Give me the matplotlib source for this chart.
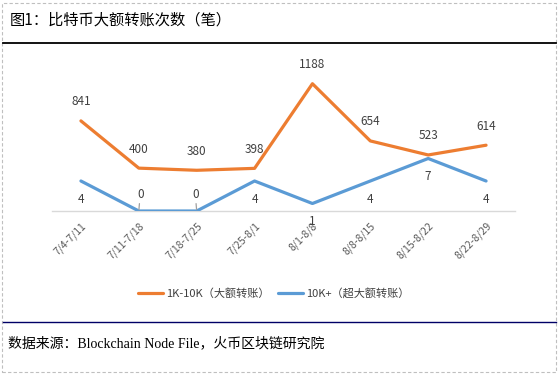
import matplotlib.pyplot as plt
from matplotlib.patches import Rectangle
from matplotlib.lines import Line2D

plt.rcParams['font.family'] = ['Noto Sans CJK SC', 'DejaVu Sans']

# data
weeks = ["7/4-7/11", "7/11-7/18", "7/18-7/25", "7/25-8/1",
         "8/1-8/8", "8/8-8/15", "8/15-8/22", "8/22-8/29"]
big = [841, 400, 380, 398, 1188, 654, 523, 614]      # 1K-10K
huge = [4, 0, 0, 4, 1, 4, 7, 4]                       # 10K+

ORANGE = "#ED7D31"
BLUE = "#5B9BD5"

fig = plt.figure(figsize=(5.59, 3.75), dpi=100)
ax = fig.add_axes([52/559, 1-211/375, 463/559, 150/375])
ax2 = ax.twinx()

x = list(range(len(weeks)))
l1, = ax.plot(x, big, color=ORANGE, lw=2.3, label="1K-10K（大额转账）", solid_capstyle='round')
l2, = ax2.plot(x, huge, color=BLUE, lw=2.3, label="10K+（超大额转账）", solid_capstyle='round')

ax.set_xlim(-0.5, len(weeks)-0.5)
ax.set_ylim(0, 1400)
ax2.set_ylim(0, 20)

for a in (ax, ax2):
    for s in ['top', 'right', 'left', 'bottom']:
        a.spines[s].set_visible(False)
    a.set_yticks([])
ax.spines['bottom'].set_visible(True)
ax.spines['bottom'].set_color('#D9D9D9')
ax.spines['bottom'].set_linewidth(1)

ax.set_xticks(x)
ax.set_xticklabels(weeks, rotation=45, ha='right', rotation_mode='anchor',
                   fontsize=7.5, color='#595959')
ax.tick_params(axis='x', length=0, pad=7)

for i, v in enumerate(big):
    ax.annotate(str(v), (i, v), xytext=(0, 9), textcoords='offset points',
                ha='center', va='bottom', fontsize=8.5, color='#404040')
for i, v in enumerate(huge):
    if v == 0:
        dx = 1 if i == 1 else -1
        ax2.annotate(str(v), (i, v), xytext=(dx, 12), textcoords='offset points',
                     ha='center', va='center', fontsize=8.5, color='#404040',
                     arrowprops=dict(arrowstyle='-', color='#A0A0A0', lw=0.9,
                                     shrinkA=0, shrinkB=1))
    else:
        ax2.annotate(str(v), (i, v), xytext=(0, -13), textcoords='offset points',
                     ha='center', va='center', fontsize=8.5, color='#404040')

fig.legend(handles=[l1, l2], loc='center', bbox_to_anchor=(0.49, 1-293/375),
           ncol=2, frameon=False, fontsize=8, handlelength=2.2, columnspacing=0.8,
           handletextpad=0.3, labelcolor='#404040')

# title, separators, footer
fig.text(10/559, 1-20/375, "图1：比特币大额转账次数（笔）", fontsize=11, va='center', ha='left')
fig.add_artist(Line2D([3/559, 556/559], [1-43/375, 1-43/375], color='black', lw=1.3))
fig.add_artist(Line2D([3/559, 556/559], [1-322/375, 1-322/375], color='#000066', lw=1))
fig.text(8/559, 1-343/375, "数据来源：Blockchain Node File，火币区块链研究院", fontsize=10,
         va='center', ha='left', family=['Liberation Serif', 'Noto Sans CJK SC'])
fig.add_artist(Rectangle((2/559, 3/375), 554/559, 369/375, fill=False,
                         edgecolor='#BFBFBF', lw=0.8, ls=(0, (3, 2))))

fig.savefig("out.png", dpi=100)
